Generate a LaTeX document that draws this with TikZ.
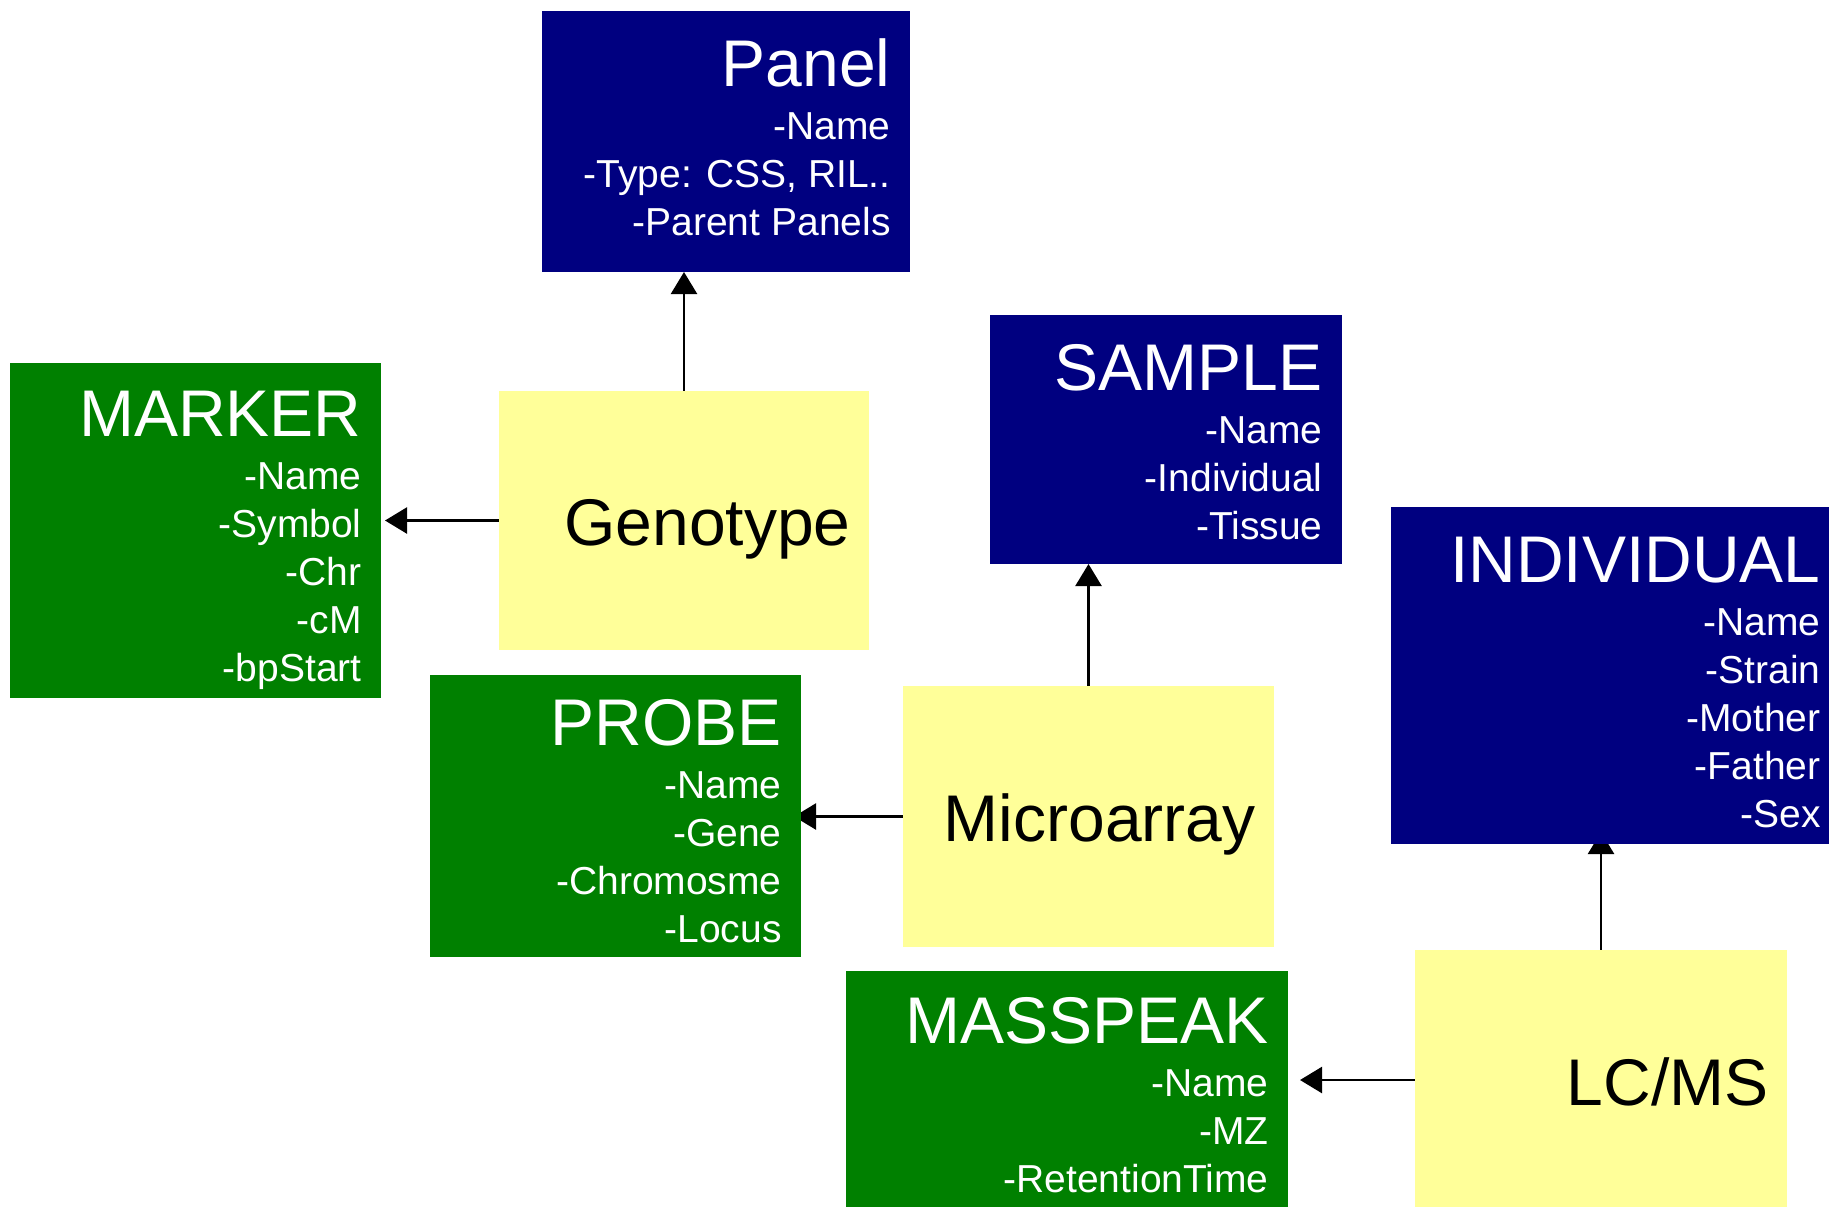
\documentclass[tikz,border=0pt]{standalone}
\usepackage{fontspec}
\setmainfont{Liberation Sans}
\usetikzlibrary{calc,arrows.meta}

\definecolor{entityblue}{RGB}{0,0,128}
\definecolor{entitygreen}{RGB}{0,128,0}
\definecolor{notefill}{RGB}{255,255,153}

\pgfdeclarelayer{paper}
\pgfdeclarelayer{links}
\pgfsetlayers{paper,links,main}

\tikzset{
  box/.style={rectangle, inner sep=0pt, outer sep=0pt, anchor=north west},
  bluebox/.style={box, fill=entityblue},
  greenbox/.style={box, fill=entitygreen},
  notebox/.style={box, fill=notefill},
  heading/.style={anchor=base east, inner sep=0pt, font=\fontsize{33pt}{36pt}\selectfont},
  field/.style={anchor=base east, inner sep=0pt, text=white, font=\fontsize{19.5pt}{22pt}\selectfont},
  link/.style={line width=1.2pt, -{Triangle[length=11pt,width=13pt]}},
}

% box from pixel corner (x1,y1) to (x2,y2)
\newcommand\mkbox[6]{%
  \node[#2, minimum width={(#5-#3)*0.5pt}, minimum height={(#6-#4)*0.5pt}] (#1) at (#3,#4) {};}
% entity heading and its list of fields, right aligned; #2 nudges the text block up
\newcommand\mkfields[4]{%
  \node[heading, text=white] (#1-title) at ($(#1.north east)+(-19,{75-#2})$) {#3};
  \foreach \f [count=\i] in {#4}
    \node[field] (#1-\i) at ($(#1.north east)+(-19,{80+48*\i-#2})$) {\f};}
% centred label of a yellow process box
\newcommand\mklabel[2]{%
  \node[heading] (#1-title) at ($(#1.east)+(-18,25)$) {#2};}

\begin{document}
\begin{tikzpicture}[x=0.5pt, y=-0.5pt]
  \useasboundingbox (0,0) rectangle (1829,1206);
  \clip (0,0) rectangle (1829,1206);
  \begin{pgfonlayer}{paper}
    \fill[white] (0,0) rectangle (1829,1206);
  \end{pgfonlayer}

  % entities
  \mkbox{panel}{bluebox}{542}{11}{910}{272}
  \mkbox{marker}{greenbox}{10}{363}{381}{698}
  \mkbox{sample}{bluebox}{990}{315}{1342}{564}
  \mkbox{individual}{bluebox}{1391}{507}{1840}{844}
  \mkbox{probe}{greenbox}{430}{675}{801}{957}
  \mkbox{masspeak}{greenbox}{846}{971}{1288}{1215}

  % processes
  \mkbox{genotype}{notebox}{499}{391}{869}{650}
  \mkbox{microarray}{notebox}{903}{686}{1274}{947}
  \mkbox{lcms}{notebox}{1415}{950}{1787}{1210}

  \mkfields{panel}{0}{Panel}{-Name,{-Type: CSS, RIL..},-Parent Panels}
  \mkfields{marker}{2}{MARKER}{-Name,-Symbol,-Chr,-cM,-bpStart}
  \mkfields{sample}{0}{SAMPLE}{-Name,-Individual,-Tissue}
  \mkfields{individual}{0}{INDIVIDUAL}{-Name,-Strain,-Mother,-Father,-Sex}
  \mkfields{probe}{5}{PROBE}{-Name,-Gene,-Chromosme,-Locus}
  \mkfields{masspeak}{3}{MASSPEAK}{-Name,-MZ,-RetentionTime}

  \mklabel{genotype}{Genotype}
  \mklabel{microarray}{Microarray}
  \mklabel{lcms}{LC/MS}

  % connectors, kept beneath the boxes
  \begin{pgfonlayer}{links}
    \draw[link] (genotype.north) -- (genotype.north |- panel.south);
    \draw[link, shorten >=2pt] (genotype.west) -- (genotype.west -| marker.east);
    \draw[link] (microarray.north) -- (microarray.north |- sample.south);
    \draw[link, shorten >=-3.5pt] (microarray.west) -- (microarray.west -| probe.east);
    \draw[link, shorten >=-6pt] (lcms.north) -- (lcms.north |- individual.south);
    \draw[link, shorten >=6pt] (lcms.west) -- (lcms.west -| masspeak.east);
  \end{pgfonlayer}
\end{tikzpicture}
\end{document}
